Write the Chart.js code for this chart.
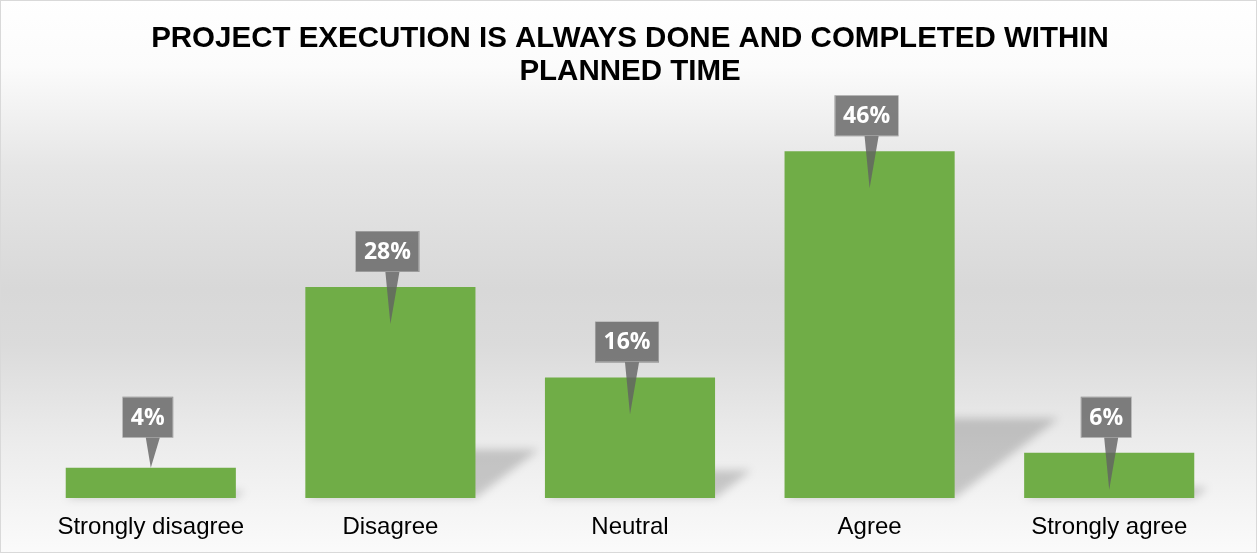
<!DOCTYPE html>
<html>
<head>
<meta charset="utf-8">
<script src="https://cdn.jsdelivr.net/npm/chart.js@4/dist/chart.umd.min.js"></script>
<style>
  html, body { margin: 0; padding: 0; background: #ffffff; }
  #wrap { width: 1257px; height: 556px; }
</style>
</head>
<body>
<div id="wrap"><canvas id="c" width="1257" height="556"></canvas></div>
<script>
// Survey answers and their share of respondents (%)
const categories = ['Strongly disagree', 'Disagree', 'Neutral', 'Agree', 'Strongly agree'];
const shares = [4, 28, 16, 46, 6];
const titleLines = ['PROJECT EXECUTION IS ALWAYS DONE AND COMPLETED WITHIN', 'PLANNED TIME'];

const BAR_GREEN = '#70AD47';

// Soft vertical backdrop and thin frame
const backdrop = {
  id: 'backdrop',
  beforeDraw(chart) {
    const { ctx, width, height } = chart;
    const g = ctx.createLinearGradient(0, 0, 0, height);
    g.addColorStop(0, '#ffffff');
    g.addColorStop(0.12, '#fbfbfb');
    g.addColorStop(0.3, '#e6e6e6');
    g.addColorStop(0.52, '#d8d8d8');
    g.addColorStop(0.62, '#dbdbdb');
    g.addColorStop(0.8, '#ececec');
    g.addColorStop(1, '#fbfbfb');
    ctx.save();
    ctx.fillStyle = g;
    ctx.fillRect(0, 0, width, height - 3);
    ctx.strokeStyle = '#d9d9d9';
    ctx.lineWidth = 1;
    ctx.strokeRect(0.5, 0.5, width - 1, height - 4);
    ctx.restore();
  }
};

// Perspective shadow cast up and to the right of each bar
const barShadows = {
  id: 'barShadows',
  beforeDatasetsDraw(chart) {
    const { ctx } = chart;
    const meta = chart.getDatasetMeta(0);
    ctx.save();
    ctx.filter = 'blur(4px)';
    ctx.fillStyle = 'rgba(0,0,0,0.18)';
    meta.data.forEach(bar => {
      const p = bar.getProps(['x', 'y', 'base', 'width'], true);
      const h = p.base - p.y;
      const L = p.x - p.width / 2, R = p.x + p.width / 2, B = p.base;
      const dx = 0.3 * h, dy = 0.23 * h;
      ctx.beginPath();
      ctx.moveTo(L, B);
      ctx.lineTo(R, B);
      ctx.lineTo(R + dx, B - dy);
      ctx.lineTo(L + dx, B - dy);
      ctx.closePath();
      ctx.fill();
    });
    ctx.restore();
  }
};

// Grey callout boxes with a pointer into each bar
const callouts = {
  id: 'callouts',
  afterDatasetsDraw(chart) {
    const { ctx } = chart;
    const meta = chart.getDatasetMeta(0);
    ctx.save();
    ctx.font = 'bold 23px "Open Sans", sans-serif';
    ctx.textAlign = 'center';
    ctx.textBaseline = 'middle';
    meta.data.forEach((bar, i) => {
      const p = bar.getProps(['x', 'y', 'base'], true);
      const h = p.base - p.y;
      const text = shares[i] + '%';
      const tw = ctx.measureText(text).width;
      const bw = tw + 17, bh = 41;
      const tall = h > 40;
      const tipX = p.x, tipY = tall ? p.y + 37 : p.y;
      const boxBottom = tall ? p.y - 15 : p.y - 30;
      const boxLeft = p.x - bw / 2 - 3;
      const boxTop = boxBottom - bh;
      ctx.fillStyle = 'rgba(98,98,98,0.8)';
      ctx.beginPath();
      ctx.moveTo(boxLeft, boxTop);
      ctx.lineTo(boxLeft + bw, boxTop);
      ctx.lineTo(boxLeft + bw, boxBottom);
      ctx.lineTo(tipX + 9, boxBottom);
      ctx.lineTo(tipX, tipY);
      ctx.lineTo(tipX - 5, boxBottom);
      ctx.lineTo(boxLeft, boxBottom);
      ctx.closePath();
      ctx.fill();
      ctx.strokeStyle = 'rgba(255,255,255,0.25)';
      ctx.lineWidth = 1;
      ctx.strokeRect(Math.round(boxLeft) + 0.5, Math.round(boxTop) + 0.5, Math.round(bw) - 1, bh - 1);
      ctx.fillStyle = '#ffffff';
      ctx.fillText(text, boxLeft + bw / 2, boxTop + bh / 2 + 1);
    });
    ctx.restore();
  }
};

new Chart(document.getElementById('c'), {
  type: 'bar',
  data: {
    labels: categories,
    datasets: [{
      data: shares,
      backgroundColor: BAR_GREEN,
      borderWidth: 0,
      categoryPercentage: 1,
      barPercentage: 0.71
    }]
  },
  options: {
    responsive: false,
    animation: false,
    devicePixelRatio: 1,
    layout: { padding: { left: 31, right: 28, top: 0, bottom: 0 } },
    plugins: {
      legend: { display: false },
      tooltip: { enabled: false },
      title: {
        display: true,
        text: titleLines,
        color: '#000000',
        font: { family: '"Liberation Sans", Arial, sans-serif', size: 29.5, weight: 'bold', lineHeight: 1.12 },
        padding: { top: 22, bottom: 33 }
      }
    },
    scales: {
      x: {
        grid: { display: false, drawTicks: false },
        border: { display: false },
        ticks: {
          color: '#000000',
          padding: 17,
          font: { family: '"Liberation Sans", Arial, sans-serif', size: 24, lineHeight: 1.0 }
        }
      },
      y: {
        display: false,
        min: 0,
        max: 50
      }
    }
  },
  plugins: [backdrop, barShadows, callouts]
});
</script>
</body>
</html>
